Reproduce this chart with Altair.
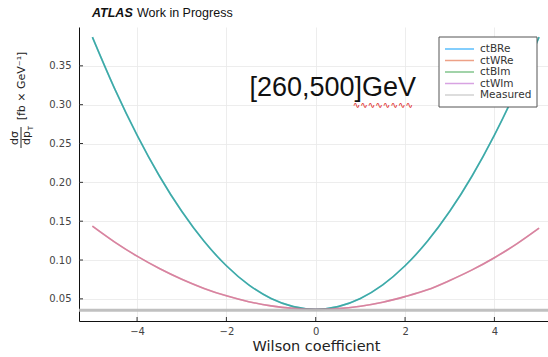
import altair as alt
import pandas as pd

# Wilson coefficient scan points
coeff = [-5.0, -4.5, -4.0, -3.5, -3.0, -2.5, -2.0, -1.5, -1.0, -0.5, 0.0,
         0.5, 1.0, 1.5, 2.0, 2.5, 3.0, 3.5, 4.0, 4.5, 5.0]

# differential cross section dσ/dpT in [260,500] GeV (fb/GeV)
ctBRe = [0.387, 0.3204, 0.2608, 0.2082, 0.1627, 0.1241, 0.0926, 0.0680, 0.0505, 0.0400, 0.0365,
         0.0400, 0.0505, 0.0680, 0.0926, 0.1241, 0.1627, 0.2082, 0.2608, 0.3204, 0.387]
ctBIm = [0.387, 0.3204, 0.2608, 0.2082, 0.1627, 0.1241, 0.0926, 0.0680, 0.0505, 0.0400, 0.0365,
         0.0400, 0.0505, 0.0680, 0.0926, 0.1241, 0.1627, 0.2082, 0.2608, 0.3204, 0.387]
ctWRe = [0.1436, 0.1231, 0.1050, 0.0891, 0.0753, 0.0635, 0.0539, 0.0464, 0.0410, 0.0377, 0.0365,
         0.0374, 0.0405, 0.0456, 0.0529, 0.0616, 0.0737, 0.0873, 0.1030, 0.1208, 0.1410]
ctWIm = [0.1436, 0.1231, 0.1050, 0.0891, 0.0753, 0.0635, 0.0539, 0.0464, 0.0410, 0.0377, 0.0365,
         0.0374, 0.0405, 0.0456, 0.0529, 0.0616, 0.0737, 0.0873, 0.1030, 0.1208, 0.1410]
measured = 0.0352

series_names = ["ctBRe", "ctWRe", "ctBIm", "ctWIm", "Measured"]
series_colors = ["#009AFA", "#E36F47", "#3EA44E", "#C371D2", "#b9b9b9"]

x_ticks = [-4, -2, 0, 2, 4]
y_ticks = [0.05, 0.10, 0.15, 0.20, 0.25, 0.30, 0.35]

W, H = 469, 294
X_DOM = [-5.3, 5.2]
Y_DOM = [0.0215, 0.400]

rows = []
for name, vals in [("ctBRe", ctBRe), ("ctWRe", ctWRe), ("ctBIm", ctBIm), ("ctWIm", ctWIm)]:
    for c, v in zip(coeff, vals):
        rows.append({"coeff": c, "xs": v, "series": name})
curves = pd.DataFrame(rows)
meas_df = pd.DataFrame({"xs": [measured], "series": ["Measured"]})
xt_df = pd.DataFrame({"t": x_ticks})
yt_df = pd.DataFrame({"t": y_ticks})

xscale = alt.Scale(domain=X_DOM, nice=False, zero=False)
yscale = alt.Scale(domain=Y_DOM, nice=False, zero=False)
cscale = alt.Scale(domain=series_names, range=series_colors)

x_axis = alt.Axis(values=x_ticks, format="d", title="Wilson coefficient", ticks=False,
                  labelPadding=5, titleFontSize=14.5, titleFont="DejaVu Sans",
                  titleFontWeight="normal", titleColor="#222", titlePadding=3, titleX=237)
y_axis = alt.Axis(values=y_ticks, format=".2f", title=None, ticks=False, labelPadding=8)

color = alt.Color("series:N", scale=cscale, legend=None)

base = alt.Chart(curves).encode(
    x=alt.X("coeff:Q", scale=xscale, axis=x_axis),
    y=alt.Y("xs:Q", scale=yscale, axis=y_axis),
    color=color,
)

re_lines = base.transform_filter(
    alt.FieldOneOfPredicate(field="series", oneOf=["ctBRe", "ctWRe"])
).mark_line(strokeWidth=1.6, interpolate="monotone", clip=True, opacity=0.75)

im_lines = base.transform_filter(
    alt.FieldOneOfPredicate(field="series", oneOf=["ctBIm", "ctWIm"])
).mark_line(strokeWidth=1.6, interpolate="monotone", clip=True, opacity=0.5)

meas_line = alt.Chart(meas_df).mark_rule(strokeWidth=3, opacity=0.9).encode(
    y=alt.Y("xs:Q", scale=yscale),
    color=color,
)

# inward tick marks
x_tick_marks = alt.Chart(xt_df).mark_rule(color="#333", strokeWidth=1).encode(
    x=alt.X("t:Q", scale=xscale), y=alt.value(H), y2=alt.value(H - 4)
)
y_tick_marks = alt.Chart(yt_df).mark_rule(color="#333", strokeWidth=1).encode(
    y=alt.Y("t:Q", scale=yscale), x=alt.value(0), x2=alt.value(4)
)

# energy-bin annotation
ann = pd.DataFrame({"coeff": [0.38], "xs": [0.3215], "label": ["[260,500]GeV"]})
bin_label = alt.Chart(ann).mark_text(
    font="Liberation Sans", fontSize=27, color="#111", align="center", baseline="middle"
).encode(x=alt.X("coeff:Q", scale=xscale), y=alt.Y("xs:Q", scale=yscale), text="label:N")
squiggle = alt.Chart(ann).mark_text(
    font="DejaVu Sans", fontSize=9, color="#e02020", align="left", baseline="middle",
    text="∿∿∿∿∿∿∿∿", dx=20, dy=17
).encode(x=alt.X("coeff:Q", scale=xscale), y=alt.Y("xs:Q", scale=yscale))

# header
atlas = alt.Chart(ann).mark_text(
    font="Liberation Sans", fontSize=12.5, fontWeight="bold", fontStyle="italic",
    align="left", baseline="middle", color="#111", text="ATLAS"
).encode(x=alt.value(13), y=alt.value(-14))
wip = alt.Chart(ann).mark_text(
    font="Liberation Sans", fontSize=12.5, align="left", baseline="middle",
    color="#111", text="Work in Progress"
).encode(x=alt.value(58), y=alt.value(-14))

# y-axis title drawn as dσ/dp_T fraction plus units
ytxt = dict(font="DejaVu Sans", angle=270, align="center", baseline="middle", color="#222")
num = alt.Chart(ann).mark_text(fontSize=11, text="dσ", **ytxt).encode(
    x=alt.value(-64), y=alt.value(111))
den = alt.Chart(ann).mark_text(fontSize=11, text="dp", **ytxt).encode(
    x=alt.value(-52), y=alt.value(111))
sub = alt.Chart(ann).mark_text(fontSize=7, text="T", **ytxt).encode(
    x=alt.value(-48), y=alt.value(101))
bar = alt.Chart(ann).mark_rule(color="#222", strokeWidth=1).encode(
    x=alt.value(-58), y=alt.value(100), y2=alt.value(121))
units = alt.Chart(ann).mark_text(fontSize=11, text="[fb × GeV⁻¹]", **ytxt).encode(
    x=alt.value(-57), y=alt.value(59))

# legend box with one line sample and label per series
LEG_X, LEG_Y, LEG_W, LEG_H = 360, 10, 98, 70
ROW0, ROW_STEP = 12, 11.5
legend_layers = [
    alt.Chart(ann).mark_rect(fill="white", stroke="#555", strokeWidth=1).encode(
        x=alt.value(LEG_X), x2=alt.value(LEG_X + LEG_W),
        y=alt.value(LEG_Y), y2=alt.value(LEG_Y + LEG_H))
]
for i, (name, col) in enumerate(zip(series_names, series_colors)):
    ry = LEG_Y + ROW0 + i * ROW_STEP
    legend_layers.append(
        alt.Chart(ann).mark_rule(color=col, strokeWidth=1.5, opacity=0.65).encode(
            x=alt.value(LEG_X + 6), x2=alt.value(LEG_X + 35), y=alt.value(ry))
    )
    legend_layers.append(
        alt.Chart(ann).mark_text(font="DejaVu Sans", fontSize=10.5, color="#333",
                                 align="left", baseline="middle", text=name).encode(
            x=alt.value(LEG_X + 41), y=alt.value(ry))
    )

chart = alt.layer(
    re_lines, im_lines, meas_line, x_tick_marks, y_tick_marks,
    bin_label, squiggle, atlas, wip, num, den, sub, bar, units, *legend_layers
).properties(
    width=W, height=H,
    autosize=alt.AutoSizeParams(type="none"),
    padding={"left": 79, "top": 27, "right": 0, "bottom": 36},
).configure_view(
    stroke=None
).configure_axis(
    domainColor="#111", domainWidth=1, gridColor="#e9e9e9", gridWidth=0.8,
    labelFont="DejaVu Sans", labelFontSize=10, labelColor="#444",
)

chart.save("out.html", embed_options={"renderer": "svg", "actions": False})
